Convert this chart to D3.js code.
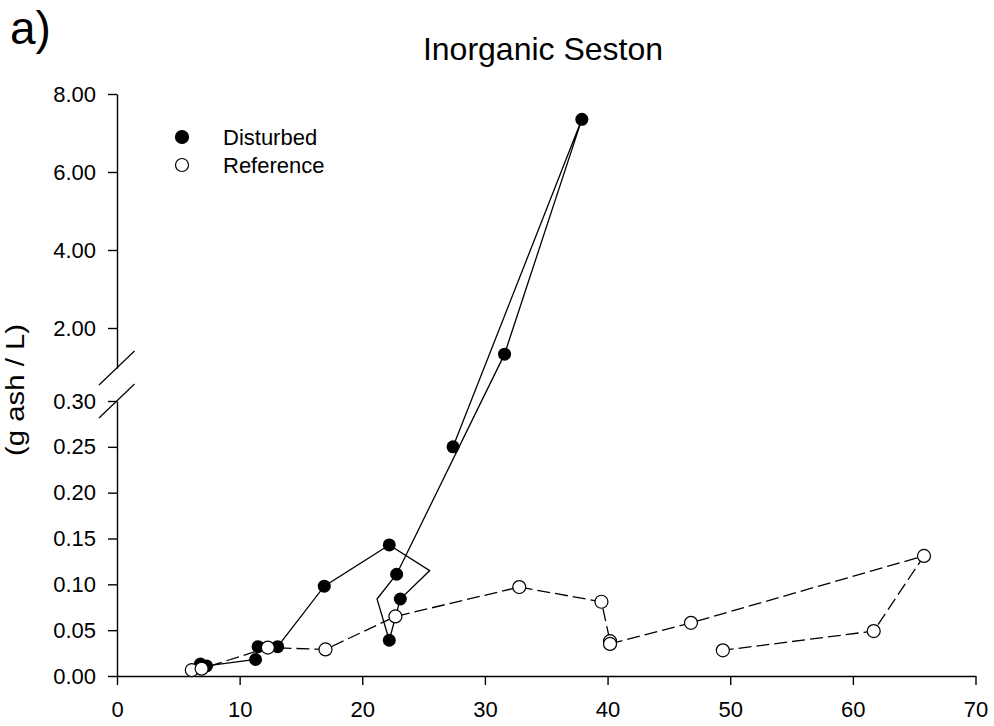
<!DOCTYPE html>
<html>
<head>
<meta charset="utf-8">
<script src="https://cdn.jsdelivr.net/npm/d3@7"></script>
<style>
  body { margin: 0; background: #fff; }
  text { font-family: "Liberation Sans", Arial, sans-serif; fill: #000; }
</style>
</head>
<body>
<div class="chart_a"></div>
<script>
// Inorganic seston, disturbed vs reference (broken y axis)

// Disturbed: line goes through every vertex, marker only where shown = 1
var disturbedX     = [6.8, 7.3, 11.3, 11.5, 13.1, 16.9, 22.2, 25.5, 23.1, 22.2, 21.2, 22.8, 31.6, 37.9, 27.4];
var disturbedY     = [0.013, 0.011, 0.018, 0.032, 0.032, 0.098, 0.143, 0.115, 0.084, 0.039, 0.084, 0.111, 1.33, 7.35, 0.25];
var disturbedShown = [1, 1, 1, 1, 1, 1, 1, 0, 1, 1, 0, 1, 1, 1, 1];

var referenceX = [6.1, 6.9, 12.3, 17.0, 22.7, 32.8, 39.5, 40.2, 40.2, 46.8, 65.8, 61.7, 49.4];
var referenceY = [0.0065, 0.008, 0.031, 0.029, 0.065, 0.097, 0.081, 0.038, 0.035, 0.058, 0.131, 0.049, 0.028];

var xTicks     = [0, 10, 20, 30, 40, 50, 60, 70];
var yLowTicks  = [0, 0.05, 0.10, 0.15, 0.20, 0.25, 0.30];
var yHighTicks = [2, 4, 6, 8];

var legendLabels = ["Disturbed", "Reference"];

var width = 994, height = 726;

var svg = d3.select(".chart_a")
            .append("svg")
            .attr("width", width)
            .attr("height", height);

var scaleX = d3.scaleLinear().domain([0, 70]).range([117, 975.5]);
var scaleYLow = d3.scaleLinear().domain([0, 0.30]).range([676, 401]);
var scaleYHigh = d3.scaleLinear().domain([2, 8]).range([328, 94]);

// values above the break use the upper scale
function yPos(v) {
  return v <= 0.30 ? scaleYLow(v) : scaleYHigh(v);
}

// ---- axes
var axisBottom = d3.axisBottom(scaleX)
                   .tickValues(xTicks)
                   .tickFormat(d3.format("d"))
                   .tickSizeInner(9)
                   .tickSizeOuter(0)
                   .tickPadding(16);

var axisLow = d3.axisLeft(scaleYLow)
                .tickValues(yLowTicks)
                .tickFormat(d3.format(".2f"))
                .tickSizeInner(9)
                .tickSizeOuter(0)
                .tickPadding(12);

// upper part of the axis runs from the break (y=368) up to 8.00
var axisHigh = d3.axisLeft(scaleYHigh.copy().domain([scaleYHigh.invert(368), 8]).range([368, 94]))
                 .tickValues(yHighTicks)
                 .tickFormat(d3.format(".2f"))
                 .tickSizeInner(9)
                 .tickSizeOuter(0)
                 .tickPadding(12);

var gx = svg.append("g")
   .attr("transform", "translate(0,676)")
   .call(axisBottom);

var gLow = svg.append("g")
   .attr("transform", "translate(117,0)")
   .call(axisLow);

var gHigh = svg.append("g")
   .attr("transform", "translate(117,0)")
   .call(axisHigh);

[gx, gLow, gHigh].forEach(function(g) {
  g.selectAll("path.domain").attr("stroke", "#000").attr("stroke-width", 1.4);
  g.selectAll(".tick line").attr("stroke", "#000").attr("stroke-width", 1.4);
  g.selectAll(".tick text")
   .attr("font-family", "Liberation Sans, Arial, sans-serif")
   .attr("font-size", 22)
   .attr("fill", "#000");
});

// axis break marks
var breakYs = [368, 401];
svg.selectAll("line.brk")
   .data(breakYs)
   .enter()
   .append("line")
   .attr("class", "brk")
   .attr("x1", 99).attr("x2", 134.5)
   .attr("y1", function(d) { return d + 17; })
   .attr("y2", function(d) { return d - 17; })
   .attr("stroke", "#000")
   .attr("stroke-width", 1.2);

// ---- lines
var dData = disturbedX.map(function(x, i) { return { x: x, y: disturbedY[i], shown: disturbedShown[i] }; });
var rData = referenceX.map(function(x, i) { return { x: x, y: referenceY[i] }; });

var line = d3.line()
             .x(function(d) { return scaleX(d.x); })
             .y(function(d) { return yPos(d.y); });

svg.append("path")
   .datum(rData)
   .attr("d", line)
   .attr("fill", "none")
   .attr("stroke", "#000")
   .attr("stroke-width", 1.3)
   .attr("stroke-dasharray", "13,5");

svg.append("path")
   .datum(dData)
   .attr("d", line)
   .attr("fill", "none")
   .attr("stroke", "#000")
   .attr("stroke-width", 1.3);

// ---- markers
var radius = 6.5;

svg.selectAll("circle.dist")
   .data(dData.filter(function(d) { return d.shown; }))
   .enter()
   .append("circle")
   .attr("class", "dist")
   .attr("cx", function(d) { return scaleX(d.x); })
   .attr("cy", function(d) { return yPos(d.y); })
   .attr("r", radius)
   .style("fill", "#000");

svg.selectAll("circle.ref")
   .data(rData)
   .enter()
   .append("circle")
   .attr("class", "ref")
   .attr("cx", function(d) { return scaleX(d.x); })
   .attr("cy", function(d) { return yPos(d.y); })
   .attr("r", radius)
   .style("fill", "#fff")
   .style("stroke", "#000")
   .style("stroke-width", 1.2);

// ---- legend
var legend = svg.selectAll("g.legend")
                .data(legendLabels)
                .enter()
                .append("g")
                .attr("class", "legend")
                .attr("transform", function(d, i) { return "translate(182," + (137 + i * 28) + ")"; });

legend.append("circle")
      .attr("r", radius)
      .style("fill", function(d, i) { return i === 0 ? "#000" : "#fff"; })
      .style("stroke", "#000")
      .style("stroke-width", 1.2);

legend.append("text")
      .attr("x", 41)
      .attr("y", 8)
      .attr("font-size", 22)
      .text(function(d) { return d; });

// ---- titles
svg.append("text")
   .attr("x", 543)
   .attr("y", 60)
   .attr("text-anchor", "middle")
   .attr("font-size", 32)
   .text("Inorganic Seston");

svg.append("text")
   .attr("x", 10)
   .attr("y", 44)
   .attr("font-size", 46)
   .text("a)");

svg.append("text")
   .attr("transform", "translate(24,390) rotate(-90)")
   .attr("text-anchor", "middle")
   .attr("font-size", 25)
   .attr("textLength", 132)
   .attr("lengthAdjust", "spacingAndGlyphs")
   .text("(g ash / L)");
</script>
</body>
</html>
